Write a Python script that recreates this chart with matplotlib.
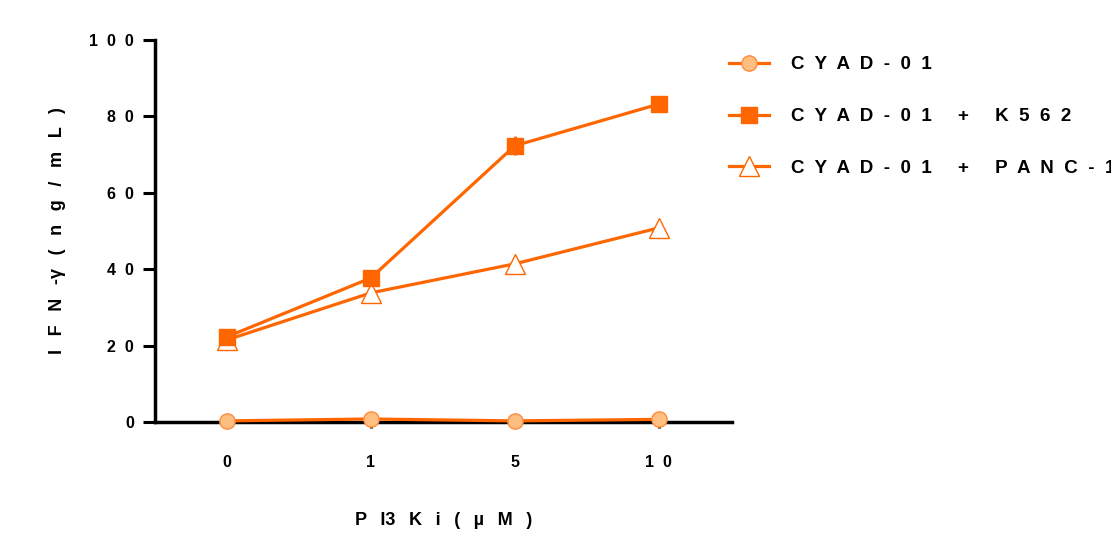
import numpy as np
import matplotlib.pyplot as plt

plt.rcParams['font.family'] = ['Liberation Sans', 'DejaVu Sans']

doses = ["0", "1", "5", "10"]
cyad = [0.3, 0.8, 0.3, 0.7]
k562 = [22.3, 37.7, 72.3, 83.2]
k562_err = [1.5, 0.8, 2.5, 0.5]
panc = [21.5, 33.8, 41.4, 50.8]
yticks = [0, 20, 40, 60, 80, 100]

def spaced(s, gap="  "):
    return gap.join(s)

orange = "#FF6600"
x = np.arange(len(doses))
wide = "  \u2009"

fig = plt.figure(figsize=(11.11, 5.39), dpi=100)
ax = fig.add_axes([0.1395, 0.217, 0.5195, 0.709])

l3, = ax.plot(x, panc, color=orange, lw=2.3, marker="^", ms=15, mfc="white",
              mec=orange, mew=1.0, zorder=3)
ax.errorbar(x, k562, yerr=k562_err, fmt="none", ecolor=orange, elinewidth=2,
            capsize=0, zorder=4)
l2, = ax.plot(x, k562, color=orange, lw=2.3, marker="s", ms=11,
              mfc=orange, mec=orange, zorder=4)
l1, = ax.plot(x, cyad, color=orange, lw=2.3, marker="o", ms=11, mfc="#FFBF80",
              mec="#FF8A3D", mew=1.0, zorder=5, clip_on=False)

ax.set_xlim(-0.5, 3.51)
ax.set_ylim(0, 100)
ax.set_yticks(yticks)
ax.set_yticklabels([spaced(str(v)) for v in yticks], fontsize=11.5, fontweight="bold")
ax.set_xticks(x)
ax.set_xticklabels([spaced(d) for d in doses], fontsize=11.5, fontweight="bold")
ax.tick_params(axis="y", length=9, width=2.2, pad=6)
ax.tick_params(axis="x", length=4, width=2.2, pad=20)

for s in ["top", "right"]:
    ax.spines[s].set_visible(False)
ax.spines["left"].set_linewidth(2.5)
ax.spines["bottom"].set_linewidth(2.5)

ylab = wide.join(["I", "F", "N", "-γ", "(", "n", "g", "/", "m", "L", ")"])
xlab = wide.join(["P", "I3", "K", "i", "(", "µ", "M", ")"])
ax.set_ylabel(ylab, fontsize=13, fontweight="bold", labelpad=17)
ax.set_xlabel(xlab, fontsize=13, fontweight="bold", labelpad=30)

labels = [spaced("CYAD-01"),
          spaced("CYAD-01") + "     +     " + spaced("K562"),
          spaced("CYAD-01") + "     +     " + spaced("PANC-1")]
fig.legend([l1, l2, l3], labels,
           loc="upper left", bbox_to_anchor=(0.641, 0.927), frameon=False,
           prop={"size": 13.5, "weight": "bold"}, handlelength=2.13,
           labelspacing=1.85, handletextpad=1.2)

fig.savefig("out.png", dpi=100)
